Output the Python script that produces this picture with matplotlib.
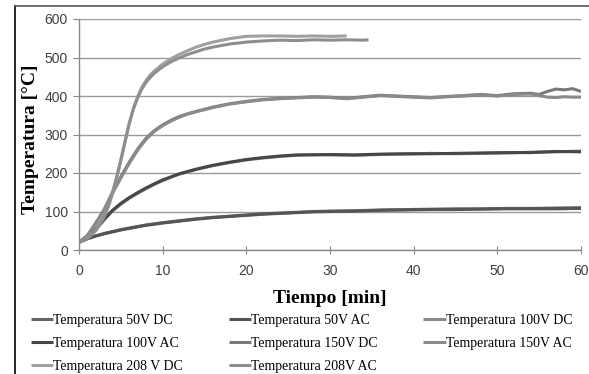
import matplotlib
matplotlib.use("Agg")
import matplotlib.pyplot as plt
from matplotlib.lines import Line2D

# ---- data ----
t50 = [0, 1, 2, 3, 4, 5, 6, 7, 8, 9, 10, 12, 14, 16, 18, 20, 22, 24, 26, 28, 30,
       33, 36, 39, 42, 45, 48, 51, 54, 57, 60]
v50_dc = [20, 30, 37, 43, 48, 53, 57, 61, 65, 68, 71, 76, 81, 85, 88, 91, 94, 96, 98, 100, 101,
          102, 104, 105, 106, 107, 107, 108, 108, 109, 110]
v50_ac = [20, 29, 36, 42, 47, 52, 56, 60, 64, 67, 70, 75, 80, 84, 87, 90, 93, 95, 97, 99, 100,
          101, 103, 104, 105, 105, 106, 107, 107, 107, 108]

t100 = [0, 1, 2, 3, 4, 5, 6, 7, 8, 9, 10, 11, 12, 14, 16, 18, 20, 22, 24, 26, 28, 30,
        33, 36, 39, 42, 45, 48, 51, 54, 57, 60]
v100_dc = [20, 33, 52, 78, 101, 119, 134, 147, 159, 170, 180, 189, 197, 209, 219, 227, 234, 239, 243, 246, 248, 247,
           246, 248, 249, 251, 250, 251, 252, 254, 255, 257]
v100_ac = [20, 34, 54, 80, 103, 121, 136, 149, 161, 172, 182, 190, 198, 210, 220, 228, 235, 240, 244, 247, 247, 248,
           247, 249, 250, 250, 251, 252, 253, 253, 256, 255]

t150 = [0, 1, 2, 3, 4, 5, 6, 7, 8, 9, 10, 11, 12, 13, 14, 16, 18, 20, 22, 24, 26, 28, 30,
        32, 34, 36, 38, 40, 42, 44, 46, 48, 50, 52, 54, 55, 56, 57, 58, 59, 60]
v150_dc = [20, 38, 70, 105, 150, 190, 228, 262, 290, 310, 325, 337, 347, 354, 360, 371, 380, 386, 391, 394, 396, 398, 397,
           394, 398, 402, 400, 398, 396, 399, 401, 404, 401, 406, 407, 404, 412, 418, 416, 419, 412]
v150_ac = [20, 37, 68, 103, 147, 187, 225, 259, 287, 308, 323, 335, 345, 353, 359, 370, 379, 385, 390, 393, 395, 397, 396,
           393, 397, 401, 399, 397, 395, 398, 400, 403, 400, 404, 405, 401, 397, 396, 398, 397, 397]

t208_dc = [0, 1, 2, 3, 3.5, 4, 4.5, 5, 5.5, 6, 6.5, 7, 7.5, 8, 8.5, 9, 10, 11, 12, 13, 14, 15, 16, 18, 20,
           22, 24, 26, 28, 30, 32]
v208_dc = [20, 30, 50, 86, 112, 147, 187, 232, 280, 327, 367, 398, 422, 440, 454, 465, 483, 497, 508, 518, 527, 534, 540, 549, 555,
           556, 556, 555, 556, 555, 556]
t208_ac = [0, 1, 2, 3, 3.5, 4, 4.5, 5, 5.5, 6, 6.5, 7, 7.5, 8, 8.5, 9, 10, 11, 12, 13, 14, 15, 16, 18, 20,
           22, 24, 26, 28, 30, 32, 34, 34.6]
v208_ac = [20, 31, 51, 88, 114, 149, 189, 234, 282, 329, 366, 395, 418, 435, 448, 459, 476, 489, 499, 508, 515, 522, 527, 535, 540,
           543, 545, 544, 546, 545, 546, 545, 546]

xticks = [0, 10, 20, 30, 40, 50, 60]
yticks = [0, 100, 200, 300, 400, 500, 600]

series = [
    ("Temperatura 50V DC", t50, v50_dc, "#666666"),
    ("Temperatura 50V AC", t50, v50_ac, "#555555"),
    ("Temperatura 100V DC", t100, v100_dc, "#8c8c8c"),
    ("Temperatura 100V AC", t100, v100_ac, "#474747"),
    ("Temperatura 150V DC", t150, v150_dc, "#7a7a7a"),
    ("Temperatura 150V AC", t150, v150_ac, "#8a8a8a"),
    ("Temperatura 208 V DC", t208_dc, v208_dc, "#a0a0a0"),
    ("Temperatura 208V AC", t208_ac, v208_ac, "#8e8e8e"),
]

fig = plt.figure(figsize=(5.89, 3.74), dpi=100)
ax = fig.add_axes([79 / 589, 1 - 250 / 374, (581 - 79) / 589, (250 - 19) / 374])

handles = {}
for name, t, v, c in series:
    (ln,) = ax.plot(t, v, color=c, lw=2.2, solid_capstyle="butt", zorder=3)
    handles[name] = ln

ax.set_xlim(0, 60)
ax.set_ylim(0, 600)
ax.set_xticks(xticks)
ax.set_yticks(yticks)
ax.yaxis.grid(True, color="#9a9a9a", lw=1.0)
ax.set_axisbelow(True)
for s in ["top", "right"]:
    ax.spines[s].set_visible(False)
for s in ["left", "bottom"]:
    ax.spines[s].set_color("#8a8a8a")
    ax.spines[s].set_linewidth(1.0)
ax.tick_params(axis="y", direction="out", length=4, color="#8a8a8a", labelsize=10,
               labelcolor="#404040", pad=4)
ax.tick_params(axis="x", direction="inout", length=6, color="#8a8a8a", labelsize=10,
               labelcolor="#404040", pad=7)
for lbl in ax.get_xticklabels() + ax.get_yticklabels():
    lbl.set_family("Liberation Sans")

ax.set_xlabel("Tiempo [min]", family="Liberation Serif", fontweight="bold", fontsize=14, labelpad=9)
ax.set_ylabel("Temperatura [°C]", family="Liberation Serif", fontweight="bold", fontsize=14,
              va="center")
ax.yaxis.set_label_coords(-0.097, 0.48)

# legend, filled column-wise for ncol=3
order = ["Temperatura 50V DC", "Temperatura 100V AC", "Temperatura 208 V DC",
         "Temperatura 50V AC", "Temperatura 150V DC", "Temperatura 208V AC",
         "Temperatura 100V DC", "Temperatura 150V AC"]
leg = fig.legend([handles[n] for n in order], order, ncol=3, loc="upper left",
                 bbox_to_anchor=(31 / 589, 1 - 314 / 374), frameon=False,
                 prop={"family": "Liberation Serif", "size": 10},
                 handlelength=1.6, handletextpad=0.0, columnspacing=3.3,
                 labelspacing=0.72, borderaxespad=0, borderpad=0)

# outer frame lines (left and top)
fig.add_artist(Line2D([15 / 589, 15 / 589], [0, 1 - 6 / 374], color="black", lw=1.2,
                      transform=fig.transFigure))
fig.add_artist(Line2D([15 / 589, 1], [1 - 6 / 374, 1 - 6 / 374], color="#555555", lw=1.2,
                      transform=fig.transFigure))

fig.savefig("out.png", dpi=100)
